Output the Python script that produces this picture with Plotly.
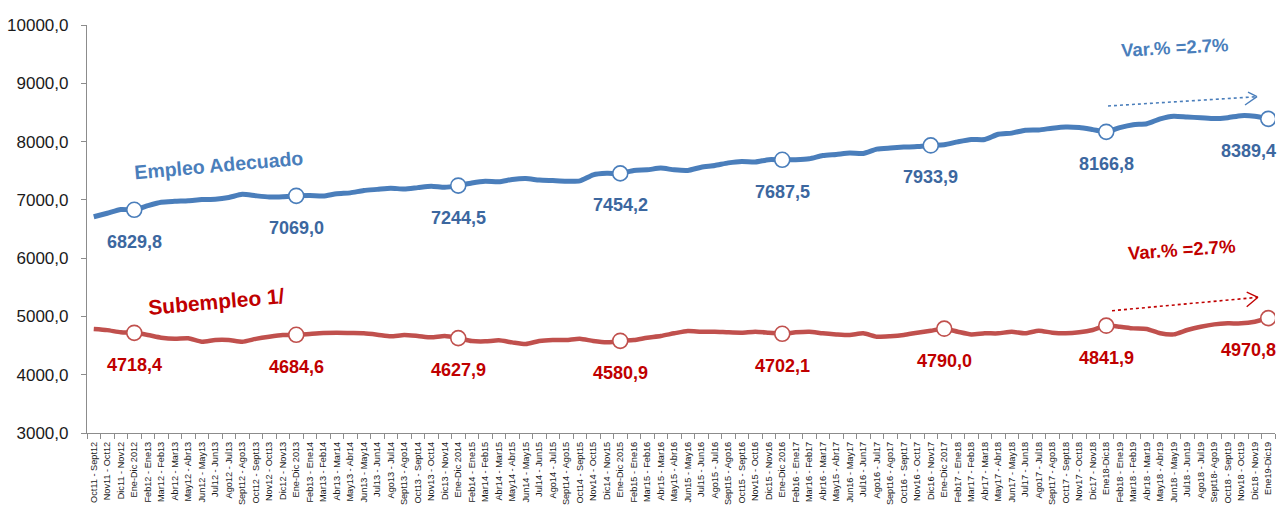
import plotly.graph_objects as go

categories = [
    "Oct11 - Sept12", "Nov11 - Oct12", "Dic11 - Nov12", "Ene-Dic 2012",
    "Feb12 - Ene13", "Mar12 - Feb13", "Abr12 - Mar13", "May12 - Abr13", "Jun12 - May13", "Jul12 - Jun13",
    "Ago12 - Jul13", "Sept12 - Ago13", "Oct12 - Sept13", "Nov12 - Oct13", "Dic12 - Nov13", "Ene-Dic 2013",
    "Feb13 - Ene14", "Mar13 - Feb14", "Abr13 - Mar14", "May13 - Abr14", "Jun13 - May14", "Jul13 - Jun14",
    "Ago13 - Jul14", "Sept13 - Ago14", "Oct13 - Sept14", "Nov13 - Oct14", "Dic13 - Nov14", "Ene-Dic 2014",
    "Feb14 - Ene15", "Mar14 - Feb15", "Abr14 - Mar15", "May14 - Abr15", "Jun14 - May15", "Jul14 - Jun15",
    "Ago14 - Jul15", "Sept14 - Ago15", "Oct14 - Sept15", "Nov14 - Oct15", "Dic14 - Nov15", "Ene-Dic 2015",
    "Feb15 - Ene16", "Mar15 - Feb16", "Abr15 - Mar16", "May15 - Abr16", "Jun15 - May16", "Jul15 - Jun16",
    "Ago15 - Jul16", "Sept15 - Ago16", "Oct15 - Sept16", "Nov15 - Oct16", "Dic15 - Nov16", "Ene-Dic 2016",
    "Feb16 - Ene17", "Mar16 - Feb17", "Abr16 - Mar17", "May15 - Abr17", "Jun16 - May17", "Jul16 - Jun17",
    "Ago16 - Jul17", "Sept16 - Ago17", "Oct16 - Sept17", "Nov16 - Oct17", "Dic16 - Nov17", "Ene-Dic 2017",
    "Feb17 - Ene18", "Mar17 - Feb18", "Abr17 - Mar18", "May17 - Abr18", "Jun17 - May18", "Jul17 - Jun18",
    "Ago17 - Jul18", "Sept17 - Ago18", "Oct17 - Sept18", "Nov17 - Oct18", "Dic17 - Nov18", "Ene18-Dic18",
    "Feb18 - Ene19", "Mar18 - Feb19", "Abr18 - Mar19", "May18 - Abr19", "Jun18 - May19", "Jul18 - Jun19",
    "Ago18 - Jul19", "Sept18- Ago19", "Oct18 - Sept19", "Nov18 - Oct19", "Dic18 - Nov19", "Ene19-Dic19",
]

empleo_adecuado = [
    6710, 6770, 6835, 6829.8, 6900, 6960, 6975, 6985, 7005, 7010,
    7040, 7095, 7070, 7050, 7055, 7069.0, 7075, 7065, 7105, 7120,
    7160, 7180, 7200, 7185, 7210, 7235, 7215, 7244.5, 7290, 7320,
    7311, 7350, 7365, 7340, 7330, 7320, 7325, 7430, 7455, 7454.2,
    7505, 7515, 7545, 7515, 7505, 7560, 7590, 7635, 7660, 7650,
    7690, 7687.5, 7690, 7705, 7760, 7780, 7805, 7795, 7870, 7890,
    7905, 7915, 7933.9, 7945, 7995, 8035, 8035, 8125, 8145, 8195,
    8200, 8230, 8250, 8240, 8205, 8166.8, 8240, 8290, 8305, 8390,
    8435, 8420, 8410, 8395, 8410, 8445, 8435, 8389.4,
]

subempleo = [
    4784, 4765, 4727, 4718.4, 4681, 4635, 4615, 4624, 4567, 4595,
    4595, 4567, 4615, 4652, 4681, 4684.6, 4700, 4715, 4720, 4715,
    4710, 4687, 4658, 4681, 4664, 4641, 4664, 4627.9, 4578, 4572,
    4590, 4555, 4527, 4578, 4595, 4595, 4618, 4578, 4555, 4580.9,
    4595, 4635, 4664, 4710, 4750, 4738, 4738, 4727, 4721, 4738,
    4721, 4702.1, 4727, 4738, 4710, 4692, 4681, 4710, 4652, 4660,
    4681, 4721, 4755, 4790.0, 4738, 4692, 4710, 4710, 4738, 4710,
    4755, 4721, 4710, 4727, 4767, 4841.9, 4824, 4795, 4784, 4710,
    4692, 4767, 4824, 4864, 4881, 4881, 4910, 4970.8,
]

# highlighted annual points (index into categories)
blue_marker_idx = [3, 15, 27, 39, 51, 62, 75, 87]
red_marker_idx = [3, 15, 27, 39, 51, 63, 75, 87]

y_ticks = [3000, 4000, 5000, 6000, 7000, 8000, 9000, 10000]

BLUE = "#4A7EBB"
BLUE_TXT = "#3C679F"
RED = "#C0504D"
RED_TXT = "#C00000"
FONT = "Liberation Sans, Arial, sans-serif"

fig = go.Figure()

fig.add_trace(go.Scatter(
    x=categories, y=empleo_adecuado, mode="lines",
    line=dict(color=BLUE, width=5, shape="spline", smoothing=0.6),
    hoverinfo="skip", showlegend=False))
fig.add_trace(go.Scatter(
    x=categories, y=subempleo, mode="lines",
    line=dict(color=RED, width=4.5, shape="spline", smoothing=0.6),
    hoverinfo="skip", showlegend=False))

fig.add_trace(go.Scatter(
    x=[categories[i] for i in blue_marker_idx],
    y=[empleo_adecuado[i] for i in blue_marker_idx],
    mode="markers",
    marker=dict(size=15, color="white", line=dict(color=BLUE, width=1.6)),
    showlegend=False, hoverinfo="skip"))
fig.add_trace(go.Scatter(
    x=[categories[i] for i in red_marker_idx],
    y=[subempleo[i] for i in red_marker_idx],
    mode="markers",
    marker=dict(size=15, color="white", line=dict(color=RED, width=1.6)),
    showlegend=False, hoverinfo="skip"))

def fmt(v):
    return f"{v:.1f}".replace(".", ",")

annotations = []
last = len(categories) - 1
for i in blue_marker_idx:
    annotations.append(dict(
        x=i, y=empleo_adecuado[i], xref="x", yref="y", text=fmt(empleo_adecuado[i]),
        showarrow=False, yshift=-32, xshift=(-20 if i == last else 0),
        xanchor="center", yanchor="middle",
        font=dict(family=FONT, size=18, color=BLUE_TXT, weight="bold")))
for i in red_marker_idx:
    annotations.append(dict(
        x=i, y=subempleo[i], xref="x", yref="y", text=fmt(subempleo[i]),
        showarrow=False, yshift=-32, xshift=(-20 if i == last else 0),
        xanchor="center", yanchor="middle",
        font=dict(family=FONT, size=18, color=RED_TXT, weight="bold")))

annotations += [
    dict(x=0.111, y=0.657, xref="paper", yref="paper", text="Empleo Adecuado",
         showarrow=False, textangle=-5, xanchor="center", yanchor="middle",
         font=dict(family=FONT, size=19.5, color=BLUE, weight="bold")),
    dict(x=0.109, y=0.322, xref="paper", yref="paper", text="Subempleo 1/",
         showarrow=False, textangle=-5, xanchor="center", yanchor="middle",
         font=dict(family=FONT, size=21, color=RED_TXT, weight="bold")),
    dict(x=0.916, y=0.946, xref="paper", yref="paper", text="Var.% =2.7%",
         showarrow=False, textangle=-3, xanchor="center", yanchor="middle",
         font=dict(family=FONT, size=18.5, color=BLUE, weight="bold")),
    dict(x=0.922, y=0.449, xref="paper", yref="paper", text="Var.% =2.7%",
         showarrow=False, textangle=-4, xanchor="center", yanchor="middle",
         font=dict(family=FONT, size=18.5, color=RED_TXT, weight="bold")),
]

# dotted trend arrows (decoration, in paper coords)
def arrow(x0, y0, x1, y1, ua, la, color):
    s = []
    s.append(dict(type="line", xref="paper", yref="paper", x0=x0, y0=y0, x1=x1, y1=y1,
                  line=dict(color=color, width=1.6, dash="dot")))
    s.append(dict(type="line", xref="paper", yref="paper", x0=ua[0], y0=ua[1], x1=x1, y1=y1,
                  line=dict(color=color, width=1.4)))
    s.append(dict(type="line", xref="paper", yref="paper", x0=la[0], y0=la[1], x1=x1, y1=y1,
                  line=dict(color=color, width=1.4)))
    return s

def px2paper(px, py):
    return ((px - 87) / 1188.0, (433 - py) / 408.0)

shapes = []
b0 = px2paper(1108, 106); b1 = px2paper(1257, 96.7)
shapes += arrow(b0[0], b0[1], b1[0], b1[1], px2paper(1248, 92.2), px2paper(1245, 105), BLUE)
r0 = px2paper(1112, 310.7); r1 = px2paper(1258, 297.3)
shapes += arrow(r0[0], r0[1], r1[0], r1[1], px2paper(1246.7, 292.2), px2paper(1246.7, 306.7), RED_TXT)

fig.update_layout(
    width=1279, height=506,
    margin=dict(l=87, r=4, t=25, b=73, autoexpand=False),
    plot_bgcolor="white", paper_bgcolor="white",
    separators=",.",
    annotations=annotations, shapes=shapes,
    showlegend=False,
)
fig.update_xaxes(
    type="category", range=[-0.5, len(categories) - 0.5],
    showgrid=False, showline=True, linecolor="#8C8C8C", linewidth=1.2,
    ticks="outside", tickson="boundaries", ticklen=5, tickcolor="#8C8C8C",
    tickangle=-90, automargin=False, ticklabelstandoff=4,
    tickfont=dict(family=FONT, size=9.2, color="#1a1a1a"),
)
fig.update_yaxes(
    range=[3000, 10000], tickvals=y_ticks, tickformat=".1f",
    showgrid=False, showline=True, linecolor="#8C8C8C", linewidth=1.2,
    ticks="outside", ticklen=5, tickcolor="#8C8C8C", zeroline=False,
    ticklabelstandoff=9, automargin=False,
    tickfont=dict(family=FONT, size=17, color="#1a1a1a"),
)

fig.write_html(
    "out.html",
    config={"displayModeBar": False},
    post_script="document.body.style.margin='0';document.body.style.overflow='hidden';",
)
